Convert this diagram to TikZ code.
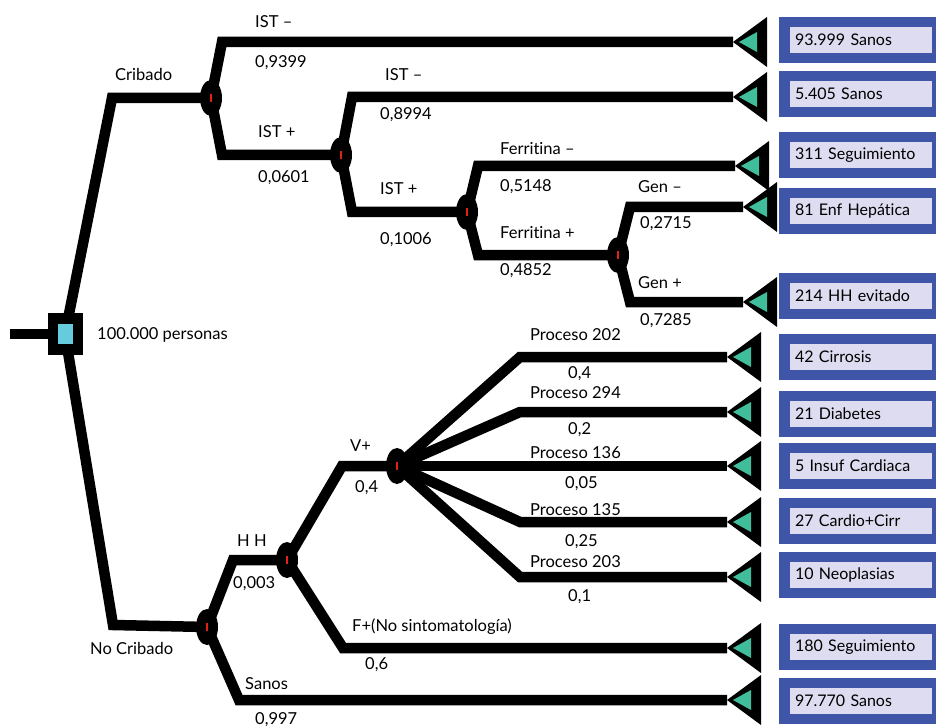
\documentclass[tikz,border=0pt]{standalone}
\usepackage{fontspec}
\setmainfont{Lato}[Ligatures=NoCommon]
\usetikzlibrary{shapes.geometric,positioning,backgrounds}
\definecolor{cBox}{RGB}{63,86,168}
\definecolor{cLeaf}{RGB}{222,220,240}
\definecolor{cEnd}{RGB}{64,190,155}
\definecolor{cRoot}{RGB}{102,204,221}
\definecolor{cMark}{RGB}{225,35,20}

\tikzset{
  branch/.style={line width=10.5pt},
  chance/.style={ellipse,fill=black,minimum width=22pt,minimum height=36pt,inner sep=0pt},
  lbl/.style={anchor=west,inner sep=0pt,font=\fontsize{16.5}{19}\selectfont},
  outbox/.style={fill=cBox,minimum width=157pt,minimum height=46pt,inner sep=0pt},
  inbox/.style={fill=cLeaf,minimum height=26pt,text width=132pt,inner xsep=5pt,inner ysep=0pt,
    align=left,font=\fontsize{16}{19}\selectfont},
}

\begin{document}
\begin{tikzpicture}[x=1pt,y=-1pt]
  \useasboundingbox (0,0) rectangle (936,727);
  % decision node
  \coordinate (start) at (10,334);
  \node[fill=black,minimum width=35pt,minimum height=42pt,inner sep=0pt] (root) at (65,334) {};
  \node[fill=cRoot,minimum width=15pt,minimum height=20pt,inner sep=0pt] (rootin) at (root) {};
  \node[lbl] (lPers) at (97,335) {100.000 personas};

  % chance nodes
  \node[chance] (cCrib) at (211,98) {};
  \node[chance] (cIST1) at (341,155) {};
  \node[chance] (cIST2) at (467,212) {};
  \node[chance] (cFer)  at (618,255) {};
  \node[chance] (cNo)   at (207,627) {};
  \node[chance] (cHH)   at (287,560) {};
  \node[chance] (cV)    at (397,466) {};
  \foreach \c in {cCrib,cIST1,cIST2,cFer,cNo,cHH,cV}
    \draw[cMark,line width=1.5pt] ([yshift=-4pt]\c.center) -- ([yshift=4pt]\c.center);

  % terminal ends
  \coordinate (t1)  at (733,42);
  \coordinate (t2)  at (733,97);
  \coordinate (t3)  at (735,166);
  \coordinate (t4)  at (743,207);
  \coordinate (t5)  at (743,302);
  \coordinate (t6)  at (727,357);
  \coordinate (t7)  at (727,412);
  \coordinate (t8)  at (727,466);
  \coordinate (t9)  at (727,522);
  \coordinate (t10) at (727,577);
  \coordinate (t11) at (727,648);
  \coordinate (t12) at (727,700);

  \begin{scope}[on background layer]
    \draw[branch] (start) -- (root.center);
    \draw[branch] (root.center) -- (112,98) -- (cCrib.center);
    \draw[branch] (root.center) -- (113,625) -- (cNo.center);
    \draw[branch] (cCrib.center) -- (222,42) -- (t1);
    \draw[branch] (cCrib.center) -- (222,155) -- (cIST1.center);
    \draw[branch] (cIST1.center) -- (352,97) -- (t2);
    \draw[branch] (cIST1.center) -- (352,212) -- (cIST2.center);
    \draw[branch] (cIST2.center) -- (478,166) -- (t3);
    \draw[branch] (cIST2.center) -- (478,255) -- (cFer.center);
    \draw[branch] (cFer.center) -- (630,207) -- (t4);
    \draw[branch] (cFer.center) -- (630,302) -- (t5);
    \draw[branch] (cNo.center) -- (233,560) -- (cHH.center);
    \draw[branch] (cNo.center) -- (239,700) -- (t12);
    \draw[branch] (cHH.center) -- (342,466) -- (cV.center);
    \draw[branch] (cHH.center) -- (343,648) -- (t11);
    \foreach \t/\y in {t6/357,t7/412,t9/522,t10/577}
      \draw[branch] (cV.center) -- (520,\y) -- (\t);
    \draw[branch] (cV.center) -- (t8);
  \end{scope}

  \foreach \t in {t1,t2,t3,t4,t5,t6,t7,t8,t9,t10,t11,t12} {
    \fill (\t) -- ++(34,-25) -- ++(0,50) -- cycle;
    \fill[cEnd] ([xshift=6pt]\t) -- ++(18,-10) -- ++(0,20) -- cycle;
  }

  % outcome boxes
  \foreach \b/\y/\txt in {b1/40/93.999 Sanos, b2/94/5.405 Sanos, b3/155/311 Seguimiento,
      b4/211/81 Enf Hepática, b5/296/214 HH evitado, b6/357/42 Cirrosis, b7/414/21 Diabetes,
      b8/466/5 Insuf Cardiaca, b9/521/27 Cardio+Cirr, b10/575/10 Neoplasias,
      b11/647/180 Seguimiento, b12/701/97.770 Sanos} {
    \node[outbox] (\b) at (857.5,\y) {};
    \node[inbox] (\b-in) at (861,\y) {\txt};
  }

  % branch labels
  \node[lbl] (lCrib) at (115,74)  {Cribado};
  \node[lbl] (lNo)   at (90,648)  {No Cribado};
  \node[lbl] at (255,22)  {IST –};
  \node[lbl] at (255,63)  {0,9399};
  \node[lbl] at (258,132) {IST +};
  \node[lbl] at (258,178) {0,0601};
  \node[lbl] at (385,75)  {IST –};
  \node[lbl] at (380,115) {0,8994};
  \node[lbl] at (380,189) {IST +};
  \node[lbl] at (380,240) {0,1006};
  \node[lbl] at (500,149) {Ferritina –};
  \node[lbl] at (500,187) {0,5148};
  \node[lbl] at (500,233) {Ferritina +};
  \node[lbl] at (500,271) {0,4852};
  \node[lbl] at (638,187) {Gen –};
  \node[lbl] at (640,224) {0,2715};
  \node[lbl] at (638,283) {Gen +};
  \node[lbl] at (640,321) {0,7285};
  \node[lbl] at (530,335) {Proceso 202};
  \node[lbl] at (568,374) {0,4};
  \node[lbl] at (530,393) {Proceso 294};
  \node[lbl] at (568,430) {0,2};
  \node[lbl] at (530,453) {Proceso 136};
  \node[lbl] at (565,484) {0,05};
  \node[lbl] at (530,510) {Proceso 135};
  \node[lbl] at (565,542) {0,25};
  \node[lbl] at (530,562) {Proceso 203};
  \node[lbl] at (568,597) {0,1};
  \node[lbl] at (350,446) {V+};
  \node[lbl] at (355,488) {0,4};
  \node[lbl] at (237,541) {H H};
  \node[lbl] at (233,584) {0,003};
  \node[lbl] at (352,627) {F+(No sintomatología)};
  \node[lbl] at (365,665) {0,6};
  \node[lbl] at (245,684) {Sanos};
  \node[lbl] at (255,720) {0,997};
\end{tikzpicture}
\end{document}
